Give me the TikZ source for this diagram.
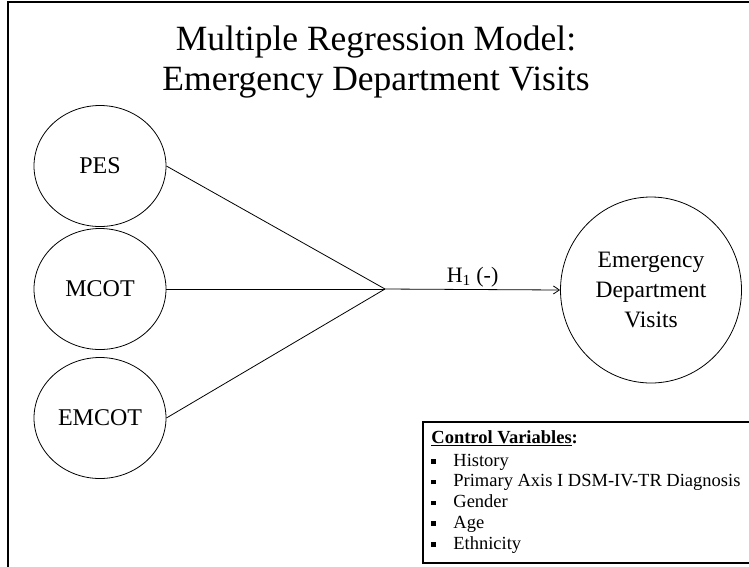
\documentclass[tikz,border=0pt]{standalone}
\usepackage{fontspec}
\setmainfont{Liberation Serif}
\usetikzlibrary{shapes.geometric,arrows.meta}
\newcommand{\blt}{\makebox[22pt][l]{\rule[2.5pt]{4.5pt}{4.5pt}}}
\begin{document}
\begin{tikzpicture}[x=1pt,y=-1pt,line width=0.8pt,
        var/.style={draw,ellipse,inner sep=0pt,minimum width=132pt,minimum height=121pt,font=\fontsize{24}{28}\selectfont},
        frame/.style={line width=1.3pt}]
        \useasboundingbox (0,0) rectangle (749,566);
        \clip (0,0) rectangle (749,566);
        \draw[frame] (8,580) -- (8,2) -- (760,2);
        \node[anchor=base,font=\fontsize{35.5}{40}\selectfont] (title1) at (376,50) {Multiple Regression Model:};
        \node[anchor=base,font=\fontsize{35.5}{40}\selectfont] (title2) at (376,90) {Emergency Department Visits};
        \node[var] (pes) at (100,166) {PES};
        \node[var] (mcot) at (100,289) {MCOT};
        \node[var] (emcot) at (100,418) {EMCOT};
        \node[var,minimum width=181pt,minimum height=186pt,align=center,font=\fontsize{23.5}{30}\selectfont] (edv) at (651,290) {Emergency\\Department\\Visits};
        \coordinate (hub) at (385,289);
        \draw (pes.east) -- (hub);
        \draw (mcot.east) -- (hub);
        \draw (emcot.east) -- (hub);
        \draw[-{Straight Barb[length=6pt,width=8pt]}] (hub) -- (edv.west) node[midway,above,yshift=-1pt,font=\fontsize{22}{24}\selectfont] (h1) {H\textsubscript{1} (-)};
        \draw[frame] (423,422) rectangle (760,563);
        \node[anchor=north west,align=left,inner sep=0pt,font=\fontsize{18.5}{20.8}\selectfont] (ctrl) at (431,430)
            {\textbf{\underline{Control Variables}:}\\[2pt]
            \blt History\\
            \blt Primary Axis I DSM-IV-TR Diagnosis\\
            \blt Gender\\
            \blt Age\\
            \blt Ethnicity};
\end{tikzpicture}
\end{document}
